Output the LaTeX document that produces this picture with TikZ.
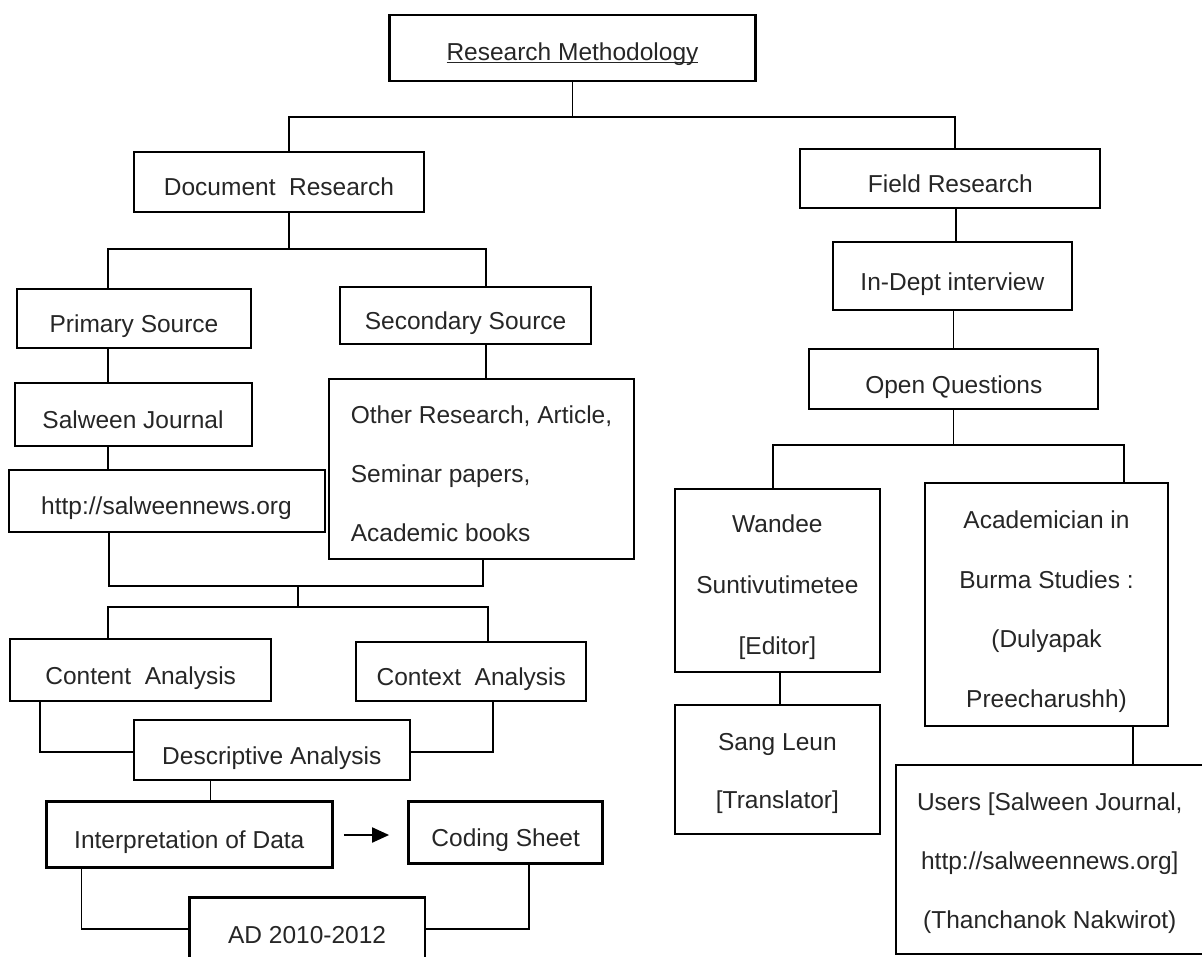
\documentclass[tikz,border=0pt]{standalone}
\usepackage{fontspec}
\setmainfont{Liberation Sans}
\usetikzlibrary{arrows.meta}
\newcommand\rmul[1]{\setbox0\hbox{#1}\rlap{\vrule height -2pt depth 3pt width \wd0}\box0}
\newcommand\fs{\fontsize{24.5}{29}\selectfont}
\begin{document}
\begin{tikzpicture}[x=1pt,y=-1pt,
  box/.style={draw, line width=2pt, inner sep=0pt, text=black!85, font=\fs},
  tbox/.style={box, line width=2.6pt},
  one/.style={text height=28pt, text depth=0pt},
  ml/.style={align=center, font=\fontsize{24.5}{#1}\selectfont},
  conn/.style={line width=1.9pt, line cap=rect, line join=miter},
  arr/.style={line width=2pt, -{Triangle[length=17pt,width=15pt]}}
]
\useasboundingbox (0,0) rectangle (1202,956);
\clip (0,0) rectangle (1202,956);

% ---------- nodes ----------
\node[tbox, minimum width=366pt, minimum height=66pt, text height=24pt, text depth=0pt] (rm) at (572.5,48) {\rmul{Research Methodology}};
\node[box, one, minimum width=290pt, minimum height=60.3pt] (dr) at (279,181.9) {Document\ \ Research};
\node[box, one, minimum width=300pt, minimum height=59pt] (fr) at (950.3,178.2) {Field Research};
\node[box, one, minimum width=239pt, minimum height=68pt] (idi) at (952.4,276.3) {In-Dept interview};
\node[box, one, minimum width=233.5pt, minimum height=59.3pt] (ps) at (134,318.7) {Primary Source};
\node[box, one, minimum width=251.5pt, minimum height=57pt] (ss) at (465.6,315.8) {Secondary Source};
\node[box, one, minimum width=237pt, minimum height=62.4pt] (sj) at (133,414.5) {Salween Journal};
\node[box, one, minimum width=316pt, minimum height=61.7pt] (http) at (166.5,500.9) {http://salweennews.org};
\node[box, minimum width=304.7pt, minimum height=180.3pt, align=left, font=\fontsize{24.5}{59}\selectfont] (other) at (481.5,469.2)
  {\rule{0pt}{27pt}Other Research, Article,\\Seminar papers,\\Academic books};
\node[box, one, minimum width=289pt, minimum height=60pt] (oq) at (953.8,379) {Open Questions};
\node[box, one, minimum width=260.7pt, minimum height=61.4pt] (ca) at (140.7,670) {Content\ \ Analysis};
\node[box, one, minimum width=230pt, minimum height=59pt] (cx) at (471.3,671.2) {Context\ \ Analysis};
\node[box, one, minimum width=275.5pt, minimum height=60pt] (da) at (271.8,750) {Descriptive Analysis};
\node[tbox, one, minimum width=286pt, minimum height=66pt] (iod) at (189.3,834.7) {Interpretation of Data};
\node[tbox, one, minimum width=194pt, minimum height=61.6pt] (cs) at (505.7,832.5) {Coding Sheet};
\node[tbox, one, minimum width=235.4pt, minimum height=63.2pt] (ad) at (307.1,929.3) {AD 2010-2012};
\node[box, ml=61, minimum width=205pt, minimum height=182.7pt] (wd) at (777.4,580.4)
  {\rule{0pt}{32pt}Wandee\\Suntivutimetee\\{[}Editor{]}};
\node[box, ml=59.6, minimum width=242.7pt, minimum height=242.7pt] (ac) at (1046.5,604.7)
  {\rule{0pt}{32pt}Academician in\\Burma Studies :\\(Dulyapak\\Preecharushh)};
\node[box, ml=58.3, minimum width=205pt, minimum height=129pt] (sl) at (777.4,769.5)
  {\rule{0pt}{25pt}Sang Leun\\{[}Translator{]}};
\node[box, ml=59.2, minimum width=308.4pt, minimum height=189.3pt] (us) at (1049.8,859.4)
  {\rule{0pt}{25pt}Users {[}Salween Journal,\\http://salweennews.org{]}\\(Thanchanok Nakwirot)};

% ---------- connectors ----------
\coordinate (t1) at (289,117);
\coordinate (t2) at (955,117);
\draw[conn] (rm.south) -- (rm.south |- t1);
\draw[conn] (t1) -- (t2);
\draw[conn] (t1) -- (t1 |- dr.north);
\draw[conn] (t2) -- (t2 |- fr.north);

\coordinate (t3) at (108,249);
\coordinate (t4) at (486,249);
\draw[conn] (t1 |- dr.south) -- (t1 |- t3);
\draw[conn] (t3) -- (t4);
\draw[conn] (t3) -- (t3 |- ps.north);
\draw[conn] (t4) -- (t4 |- ss.north);
\draw[conn] (t3 |- ps.south) -- (t3 |- sj.north);
\draw[conn] (t3 |- sj.south) -- (t3 |- http.north);
\draw[conn] (t4 |- ss.south) -- (t4 |- other.north);

\coordinate (t5) at (109,585.7);
\coordinate (t6) at (483.4,585.7);
\draw[conn] (t5 |- http.south) -- (t5) -- (t6) -- (t6 |- other.south);
\coordinate (t7) at (297.7,585.7);
\coordinate (t8) at (297.7,607.3);
\draw[conn] (t7) -- (t8);
\coordinate (t9) at (108.3,607.3);
\coordinate (t10) at (488,607.3);
\draw[conn] (t9 |- ca.north) -- (t9) -- (t10) -- (t10 |- cx.north);

\coordinate (c1) at (40.2,752);
\draw[conn] (c1 |- ca.south) -- (c1) -- (c1 -| da.west);
\coordinate (c2) at (492.9,752);
\draw[conn] (c2 |- cx.south) -- (c2) -- (c2 -| da.east);
\coordinate (c3) at (210.5,790);
\draw[conn] (c3 |- da.south) -- (c3 |- iod.north);
\draw[arr, shorten <=10.3pt, shorten >=18.3pt] (iod.east |- 0,835) -- (cs.west |- 0,835);
\coordinate (c4) at (81.5,929.3);
\draw[conn] (c4 |- iod.south) -- (c4) -- (c4 -| ad.west);
\coordinate (c5) at (529.3,929.3);
\draw[conn] (c5 |- cs.south) -- (c5) -- (c5 -| ad.east);

\coordinate (f1) at (955.9,230);
\draw[conn] (f1 |- fr.south) -- (f1 |- idi.north);
\coordinate (f2) at (953.5,330);
\draw[conn] (f2 |- idi.south) -- (f2 |- oq.north);
\coordinate (f3) at (953.5,445);
\coordinate (f4) at (773.1,445);
\coordinate (f5) at (1124.4,445);
\draw[conn] (f3 |- oq.south) -- (f3);
\draw[conn] (f4 |- wd.north) -- (f4) -- (f5) -- (f5 |- ac.north);
\coordinate (f6) at (779.7,690);
\draw[conn] (f6 |- wd.south) -- (f6 |- sl.north);
\coordinate (f7) at (1133.2,745);
\draw[conn] (f7 |- ac.south) -- (f7 |- us.north);
\end{tikzpicture}
\end{document}
